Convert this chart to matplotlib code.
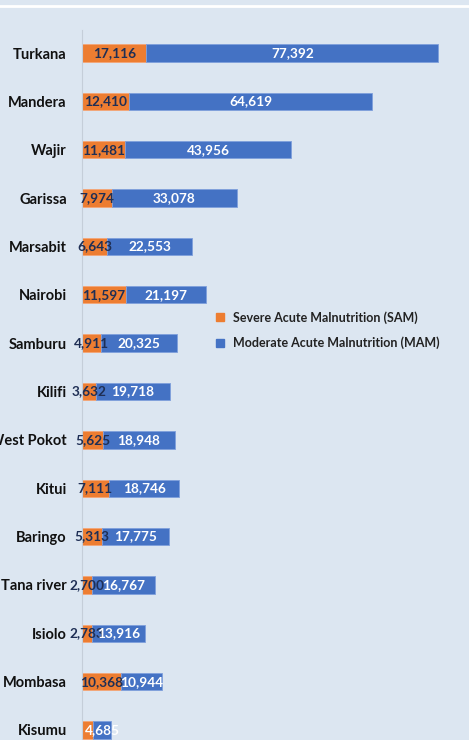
import matplotlib.pyplot as plt
from matplotlib.lines import Line2D

# data (top to bottom)
counties = ['Turkana', 'Mandera', 'Wajir', 'Garissa', 'Marsabit', 'Nairobi', 'Samburu',
            'Kilifi', 'West Pokot', 'Kitui', 'Baringo', 'Tana river', 'Isiolo', 'Mombasa', 'Kisumu']
sam = [17116, 12410, 11481, 7974, 6643, 11597, 4911, 3632, 5625, 7111, 5313, 2700, 2783, 10368, 3000]
mam = [77392, 64619, 43956, 33078, 22553, 21197, 20325, 19718, 18948, 18746, 17775, 16767, 13916, 10944, 4685]
# Kisumu SAM label is not visible in the source
sam_show = [True] * 14 + [False]

bg = '#dce6f1'
orange = '#ed7d31'
blue = '#4472c4'

plt.rcParams['font.family'] = ['Lato', 'DejaVu Sans']

fig = plt.figure(figsize=(4.69, 7.40), dpi=100, facecolor=bg)
ax = fig.add_axes([82/469, 0, 1 - 82/469, 710/740], facecolor=bg)

y = list(range(len(counties)))
ax.barh(y, sam, height=0.36, color=orange, edgecolor='#f4a677', linewidth=0.6, label='Severe Acute Malnutrition (SAM)')
ax.barh(y, mam, left=sam, height=0.36, color=blue, edgecolor='#7fa0dc', linewidth=0.6, label='Moderate Acute Malnutrition (MAM)')

for i in y:
    if sam_show[i]:
        ax.text(sam[i] / 2, i, f'{sam[i]:,}', ha='center', va='center',
                fontsize=9.8, fontweight='bold', color='#1f2f55')
    ax.text(sam[i] + mam[i] / 2, i, f'{mam[i]:,}', ha='center', va='center',
            fontsize=9.8, fontweight='bold', color='white')

ax.set_xlim(0, 102700)
ax.set_ylim(len(counties) - 1 + 0.207, -0.476)
ax.set_yticks(y)
ax.set_yticklabels(counties, fontsize=10.5, fontweight='bold', color='#111111')
ax.tick_params(axis='y', length=0, pad=11)
ax.set_xticks([])
for s in ['top', 'right', 'bottom']:
    ax.spines[s].set_visible(False)
ax.spines['left'].set_color('#c5ced9')
ax.spines['left'].set_linewidth(0.8)

handles = [Line2D([], [], marker='s', linestyle='none', color=orange, markersize=6),
           Line2D([], [], marker='s', linestyle='none', color=blue, markersize=6)]
fig.legend(handles, ['Severe Acute Malnutrition (SAM)', 'Moderate Acute Malnutrition (MAM)'],
           loc='upper left', bbox_to_anchor=(196/469, 1 - 300/740), frameon=False,
           prop={'weight': 'bold', 'size': 9}, handletextpad=0.05, labelspacing=1.0,
           labelcolor='#222222')

# white divider line at the top of the picture
fig.add_artist(Line2D([0, 1], [1 - 5.5/740, 1 - 5.5/740], color='white', linewidth=2,
                      transform=fig.transFigure))

fig.savefig('out.png', dpi=100, facecolor=bg)
